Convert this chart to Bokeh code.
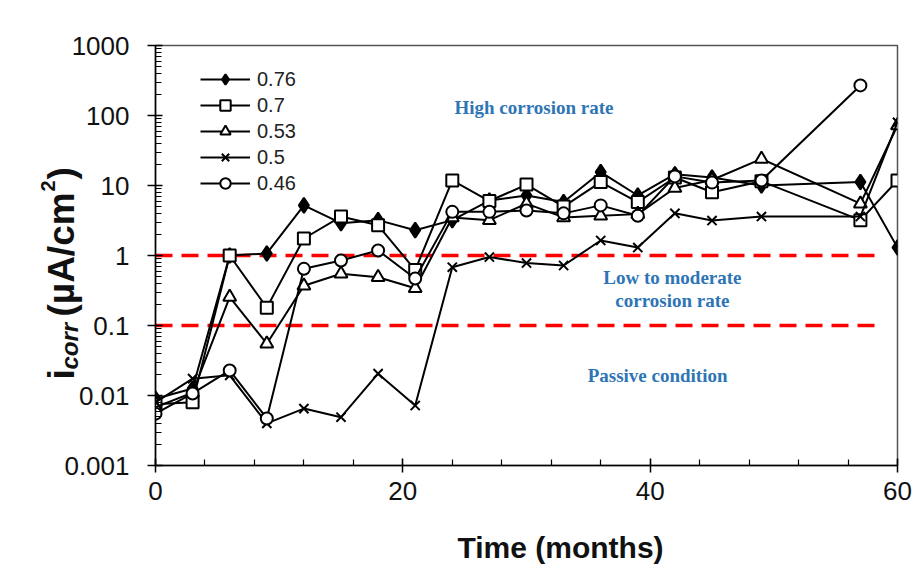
import math
from bokeh.plotting import figure
from bokeh.models import FixedTicker, Label, Legend, LegendItem, Range1d
from bokeh.core.properties import value
from bokeh.embed import file_html
from bokeh.resources import INLINE

# ---------------- data ----------------
months = [0, 3, 6, 9, 12, 15, 18, 21, 24, 27, 30, 33, 36, 39, 42, 45, 49, 57, 60]
months_046 = [0, 3, 6, 9, 12, 15, 18, 21, 24, 27, 30, 33, 36, 39, 42, 45, 49, 57]

icorr_076 = [0.009, 0.0126, 1.0, 1.07, 5.2, 2.9, 3.2, 2.3, 3.2, 6.1, 7.2, 5.8, 15.5, 7.2, 14.5, 13.0, 10.0, 11.2, 1.3]
icorr_070 = [0.0075, 0.008, 1.0, 0.18, 1.75, 3.6, 2.7, 0.62, 11.8, 6.0, 10.3, 5.0, 11.2, 5.8, 13.0, 8.0, 11.5, 3.2, 11.8]
icorr_053 = [0.0068, 0.011, 0.255, 0.055, 0.37, 0.55, 0.49, 0.34, 3.5, 3.2, 5.5, 3.5, 3.7, 3.9, 9.2, 12.0, 24.0, 5.5, 72.0]
icorr_050 = [0.008, 0.0174, 0.0194, 0.004, 0.0065, 0.0049, 0.0205, 0.0072, 0.68, 0.95, 0.78, 0.72, 1.64, 1.3, 4.0, 3.16, 3.6, 3.6, 80.0]
icorr_046 = [0.0055, 0.0107, 0.0228, 0.0047, 0.645, 0.85, 1.18, 0.47, 4.2, 4.2, 4.4, 4.0, 5.2, 3.7, 13.5, 11.0, 11.8, 269.0]

series_labels = ["0.76", "0.7", "0.53", "0.5", "0.46"]

limit_x = [0, 58.4]
limit_values = [1.0, 0.1]

x_ticks = [0, 20, 40, 60]
x_minor_ticks = list(range(0, 61, 4))
y_ticks = [0.001, 0.01, 0.1, 1, 10, 100, 1000]
y_tick_labels = ["0.001", "0.01", "0.1", "1", "10", "100", "1000"]

x_title = "Time (months)"

# ---------------- figure ----------------
p = figure(width=920, height=568, title=None,
           y_axis_type="log",
           x_range=Range1d(0, 60), y_range=Range1d(0.001, 1000),
           output_backend="svg", toolbar_location=None,
           min_border_left=155, min_border_right=23,
           min_border_top=45, min_border_bottom=103)

p.grid.visible = False
p.outline_line_color = "#555555"
p.outline_line_width = 1.5
p.background_fill_color = "white"
p.border_fill_color = "white"

FONT = "Liberation Sans"
TXT = "#111111"

# x axis
xa = p.xaxis[0]
xa.ticker = FixedTicker(ticks=x_ticks, minor_ticks=x_minor_ticks)
xa.axis_line_color = "black"
xa.axis_line_width = 1.5
xa.major_tick_line_color = "black"
xa.minor_tick_line_color = "black"
xa.major_tick_line_width = 1.5
xa.minor_tick_line_width = 1.2
xa.major_tick_in = 7
xa.major_tick_out = 7
xa.minor_tick_in = 6
xa.minor_tick_out = 0
xa.major_label_text_font = FONT
xa.major_label_text_font_size = "26px"
xa.major_label_text_color = TXT
xa.major_label_standoff = 9
xa.axis_label = None

# x-axis title (centred a little right of the frame centre, as in the original)
p.text(x=[32.75], y=[0.001], text=[x_title], x_offset=0, y_offset=82,
       text_align="center", text_baseline="middle",
       text_font=value(FONT), text_font_size="30px", text_font_style="bold",
       text_color=TXT, level="overlay")

# y axis
ya = p.yaxis[0]
minor_y = [m * 10.0 ** e for e in range(-3, 3) for m in range(2, 10)]
ya.ticker = FixedTicker(ticks=y_ticks, minor_ticks=minor_y)
ya.major_label_overrides = {v: s for v, s in zip(y_ticks, y_tick_labels)}
ya.axis_line_color = "black"
ya.axis_line_width = 1.5
ya.major_tick_line_color = "black"
ya.minor_tick_line_color = "black"
ya.major_tick_line_width = 1.5
ya.minor_tick_line_width = 1.2
ya.major_tick_in = 7
ya.major_tick_out = 8
ya.minor_tick_in = 6
ya.minor_tick_out = 0
ya.major_label_text_font = FONT
ya.major_label_text_font_size = "26px"
ya.major_label_text_color = TXT
ya.major_label_standoff = 18
ya.axis_label = None

# y-axis title built from pieces (subscript / superscript), rotated,
# anchored at the frame's left edge at the y = 1 line, offset in pixels
title_parts = [
    ("i", -94, 124, "37px", "bold"),
    ("corr", -86, 114, "24px", "bold italic"),
    ("(\u00b5A/cm", -94, 61, "37px", "bold"),
    ("2", -108, -64, "20px", "bold"),
    (")", -94, -76, "37px", "bold"),
]
for txt, dx, dy, fs, st in title_parts:
    p.text(x=[0], y=[1], text=[txt], x_offset=dx, y_offset=dy,
           angle=math.pi / 2, text_align="left", text_baseline="alphabetic",
           text_font=value(FONT), text_font_size=fs, text_font_style=st,
           text_color=TXT, level="overlay")

# threshold lines
for lv in limit_values:
    p.line(x=limit_x, y=[lv, lv], line_color="#FF0000", line_width=3.5, line_dash="17 9")

# region annotations
ann_color = "#2E75B6"
annotations = [
    ("High corrosion rate", 30.6, 130.0),
    ("Low to moderate", 41.8, 0.48),
    ("corrosion rate", 41.8, 0.228),
    ("Passive condition", 40.6, 0.0193),
]
for txt, ax, ay in annotations:
    p.add_layout(Label(x=ax, y=ay, text=txt, text_align="center", text_baseline="middle",
                       text_font="Liberation Serif", text_font_style="bold",
                       text_font_size="19px", text_color=ann_color))

# series
specs = [
    (months, icorr_076, "diamond", 15, "black"),
    (months, icorr_070, "square", 12, "white"),
    (months, icorr_053, "triangle", 13, "white"),
    (months, icorr_050, "x", 13, "black"),
    (months_046, icorr_046, "circle", 12, "white"),
]
items = []
for label, (xs, ys, marker, size, fill) in zip(series_labels, specs):
    lr = p.line(x=xs, y=ys, line_color="black", line_width=2)
    sr = p.scatter(x=xs, y=ys, marker=marker, size=size, fill_color=fill,
                   line_color="black", line_width=2)
    items.append(LegendItem(label=label, renderers=[lr, sr]))

legend = Legend(items=items, location=(45, 269))
legend.glyph_width = 50
legend.glyph_height = 26
legend.label_height = 26
legend.spacing = 0
legend.padding = 0
legend.margin = 0
legend.label_standoff = 7
legend.label_text_font = FONT
legend.label_text_font_size = "20px"
legend.label_text_color = "#222222"
legend.background_fill_alpha = 0
legend.border_line_alpha = 0
p.add_layout(legend)

open("out.html", "w").write(file_html(p, INLINE))
